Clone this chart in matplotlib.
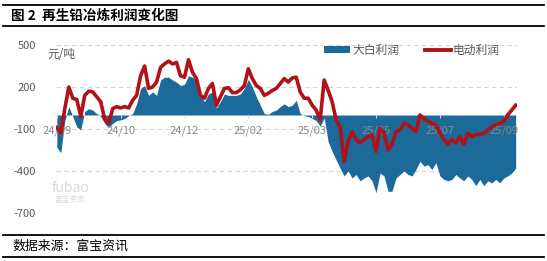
import matplotlib
matplotlib.use("Agg")
import matplotlib.pyplot as plt
from matplotlib.patches import Patch
from matplotlib.lines import Line2D
import numpy as np

plt.rcParams['font.family'] = ['Noto Sans CJK SC', 'DejaVu Sans']

# ---- data ----
tick_labels = ['24/09', '24/10', '24/12', '25/02', '25/03', '25/05', '25/07', '25/09']
tick_step = 16

dabai_profit = [
    -230, -270, -40, 60, -10, -85, -105, 25, 45, 35,
    10, -10, -60, -90, -60, -40, -35, -25, -5, 10,
    80, 190, 210, 140, 165, 140, 250, 270, 270, 250,
    235, 210, 220, 280, 270, 250, 140, 95, 150, 165,
    50, 95, 150, 140, 140, 140, 150, 190, 255, 200,
    130, 70, 10, 5, 25, 35, 60, 80, 60, 70,
    105, 10, -5, -10, -25, -40, -80, -20, -190, -260,
    -320, -380, -435, -400, -450, -425, -470, -450, -435, -470,
    -555, -415, -435, -545, -545, -450, -425, -400, -425, -435,
    -390, -330, -365, -355, -390, -340, -435, -460, -470, -460,
    -425, -450, -470, -435, -460, -505, -460, -505, -470, -485,
    -460, -485, -450, -435, -415, -380,
]

diandong_profit = [
    -90, -130, 45, 200, 120, 110, -10, 140, 170, 165,
    130, 95, -30, -60, 45, 60, 50, 60, 50, 105,
    140, 280, 350, 190, 200, 235, 340, 365, 385, 365,
    375, 280, 270, 395, 305, 260, 140, 120, 190, 225,
    70, 130, 190, 195, 160, 160, 180, 210, 330, 260,
    210, 190, 140, 155, 175, 190, 225, 260, 235, 265,
    270, 165, 120, 120, 70, 35, -35, 250, 175, 95,
    -35, -85, -330, -190, -120, -175, -200, -175, -155, -140,
    -260, -95, -130, -250, -210, -120, -105, -60, -70, -95,
    -120, 0, -25, -45, -60, -70, -130, -175, -210, -175,
    -200, -155, -210, -130, -155, -140, -140, -130, -105, -85,
    -70, -60, -45, 0, 35, 70,
]

series_names = ['大白利润', '电动利润']
y_ticks = [500, 200, -100, -400, -700]

# ---- figure ----
W, H = 547, 261
fig = plt.figure(figsize=(W / 100, H / 100), dpi=100)

blue = '#1b6a9a'
red = '#b01217'
gray_txt = '#595959'

ax = fig.add_axes([55.5 / W, 48 / H, (517 - 55.5) / W, 168 / H])
x = np.arange(len(dabai_profit))
ax.fill_between(x, 0, dabai_profit, color=blue, linewidth=0, zorder=1)
ax.plot(x, diandong_profit, color=red, linewidth=2.6, zorder=3, solid_joinstyle='round')

ax.set_xlim(-0.33, len(x) - 1 + 0.33)
ax.set_ylim(-700, 500)
for yv in y_ticks:
    ax.axhline(yv, color='#d4d4d4', linewidth=0.8, linestyle=(0, (4, 3)), zorder=0.5)

ax.set_yticks(y_ticks)
ax.set_yticklabels([str(v) for v in y_ticks])
ax.tick_params(axis='y', length=0, pad=14, labelsize=8, labelcolor=gray_txt)

ax.spines['bottom'].set_position(('data', 0))
for s in ['top', 'right', 'left', 'bottom']:
    ax.spines[s].set_visible(False)
ax.set_xticks(np.arange(0, len(x), tick_step)[:len(tick_labels)])
ax.set_xticklabels(tick_labels)
ax.tick_params(axis='x', length=2.5, color='#d9d9d9', pad=5, labelsize=8, labelcolor='#8a8a8a')

fig.text(47 / W, 1 - 55 / H, '元/吨', fontsize=8.5, color=gray_txt, va='center', ha='left',
         zorder=4)

handles = [Patch(facecolor=blue, edgecolor='none'),
           Line2D([0], [0], color=red, linewidth=2.8)]
fig.legend(handles, series_names, loc='center', bbox_to_anchor=(412 / W, 1 - 50 / H),
           ncol=2, frameon=False, fontsize=8.5, handlelength=2.2, handleheight=0.6,
           handletextpad=0.15, columnspacing=2.2, labelcolor=gray_txt, borderpad=0)

# watermark
fig.text(70 / W, 1 - 188 / H, 'fubao', fontsize=10, color='#d8d8d8', ha='center', va='center')
fig.text(70 / W, 1 - 200 / H, '富宝资讯', fontsize=5.5, color='#d8d8d8', ha='center', va='center')

# title and footer rules
for yy in [5, 26, 235, 257]:
    fig.add_artist(Line2D([3 / W, 544 / W], [1 - yy / H, 1 - yy / H], color='black',
                          linewidth=1.3, transform=fig.transFigure))
fig.text(11 / W, 1 - 16 / H, '图 2  再生铅冶炼利润变化图', fontsize=9.8, fontweight='bold',
         color='black', ha='left', va='center')
fig.text(12 / W, 1 - 246 / H, '数据来源：富宝资讯', fontsize=9.3, color='black',
         ha='left', va='center')

fig.savefig('out.png', dpi=100)
